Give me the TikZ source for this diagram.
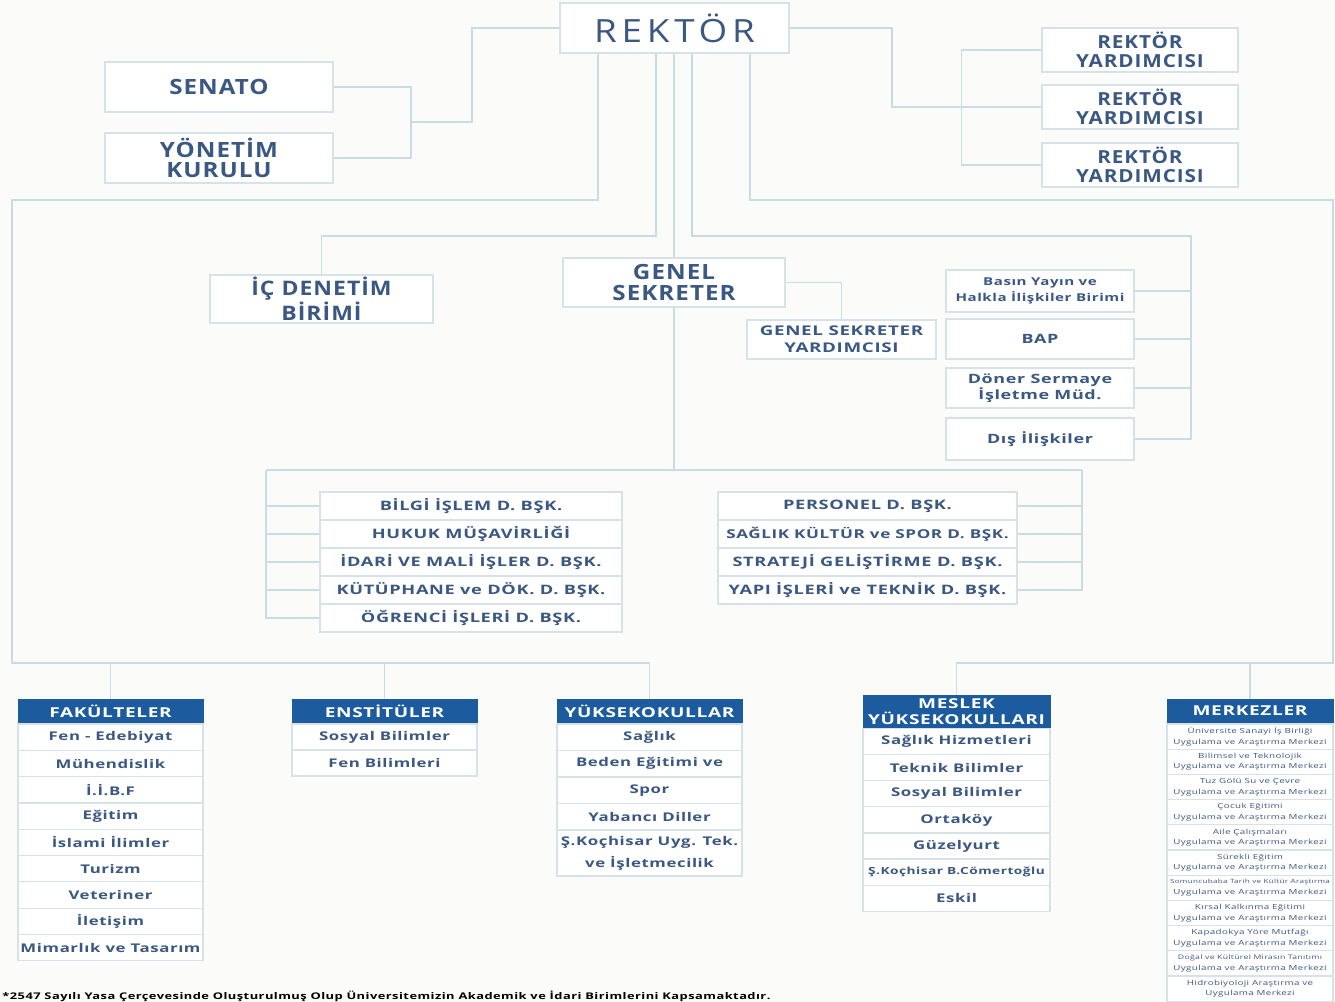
\documentclass[tikz,border=0pt]{standalone}
\usepackage{fontspec}
\setmainfont{Open Sans}
\newfontfamily\topfont{Open Sans}[FakeStretch=1.15,LetterSpace=5]
\newfontfamily\listfont{Open Sans}[FakeStretch=1.4,LetterSpace=5]
\newfontfamily\rekfont{Open Sans}[FakeStretch=1.15,LetterSpace=15]
\usetikzlibrary{calc,positioning}
\definecolor{txt}{RGB}{58,88,130}
\definecolor{headblue}{RGB}{28,92,158}
\definecolor{linecol}{RGB}{200,220,228}
\definecolor{boxline}{RGB}{214,226,232}
\definecolor{bgcol}{RGB}{251,251,249}
\newcommand{\uam}{Uygulama ve Araştırma Merkezi}

\begin{document}
\begin{tikzpicture}
[x=0.5pt,y=-0.5pt,
 unit/.style={draw=boxline,fill=white,text=txt,align=center,inner sep=0pt,line width=0.6pt},
 head/.style={draw=headblue,fill=headblue,text=white,align=center,inner sep=0pt,font=\listfont\bfseries\fontsize{6.8}{8}\selectfont},
 item/.style={unit,font=\listfont\bfseries\fontsize{6}{7}\selectfont},
 dept/.style={unit,minimum height=14pt,font=\listfont\bfseries\fontsize{6.5}{7}\selectfont},
 link/.style={draw=linecol,line width=0.9pt}]
\useasboundingbox (0,0) rectangle (1335,1002);
\fill[bgcol] (0,0) rectangle (1335,1002);

% rektor and boards
\node[unit,minimum width=114.5pt,minimum height=25pt,font=\rekfont\fontsize{16}{18}\selectfont] (rektor) at (674.5,28) {REKTÖR};
\node[unit,minimum width=114pt,minimum height=25pt,font=\topfont\bfseries\fontsize{10.5}{10}\selectfont] (senato) at (219,87) {SENATO};
\node[unit,minimum width=114pt,minimum height=25pt,font=\topfont\bfseries\fontsize{10.5}{10}\selectfont] (yonetim) at (219,158) {YÖNETİM\\KURULU};
\foreach \y [count=\i] in {50,107,165}
  \node[unit,minimum width=98pt,minimum height=22pt,font=\topfont\bfseries\fontsize{9}{9.5}\selectfont] (ry\i) at (1140,\y) {REKTÖR\\YARDIMCISI};

% middle level
\node[unit,minimum width=111.5pt,minimum height=24pt,font=\topfont\bfseries\fontsize{10}{10}\selectfont] (icdenetim) at (321.5,299) {İÇ DENETİM\\BİRİMİ};
\node[unit,minimum width=111pt,minimum height=24.5pt,font=\topfont\bfseries\fontsize{10.5}{10.5}\selectfont] (gensek) at (674,282.5) {GENEL\\SEKRETER};
\node[unit,minimum width=94.5pt,minimum height=19.5pt,font=\listfont\bfseries\fontsize{6.7}{8.5}\selectfont] (gsy) at (841.5,339.5) {GENEL SEKRETER\\YARDIMCISI};
\node[unit,minimum width=94pt,minimum height=21pt,font=\listfont\bfseries\fontsize{5.4}{8}\selectfont] (basin) at (1040,291) {Basın Yayın ve\\Halkla İlişkiler Birimi};
\node[unit,minimum width=94pt,minimum height=20pt,font=\listfont\bfseries\fontsize{6.4}{8}\selectfont] (bap) at (1040,339) {BAP};
\node[unit,minimum width=94pt,minimum height=20pt,font=\listfont\bfseries\fontsize{6.4}{8}\selectfont] (doner) at (1040,388) {Döner Sermaye\\İşletme Müd.};
\node[unit,minimum width=94pt,minimum height=21pt,font=\listfont\bfseries\fontsize{6.4}{8}\selectfont] (dis) at (1040,439) {Dış İlişkiler};

% daire baskanliklari
\foreach \t [count=\i] in {BİLGİ İŞLEM D. BŞK.,HUKUK MÜŞAVİRLİĞİ,İDARİ VE MALİ İŞLER D. BŞK.,KÜTÜPHANE ve DÖK. D. BŞK.,ÖĞRENCİ İŞLERİ D. BŞK.}
  \node[dept,minimum width=151pt] (dl\i) at (471,{506+28*(\i-1)}) {\t};
\foreach \t [count=\i] in {PERSONEL D. BŞK.,{\fontsize{6.1}{7}\selectfont SAĞLIK KÜLTÜR ve SPOR D. BŞK.},STRATEJİ GELİŞTİRME D. BŞK.,YAPI İŞLERİ ve TEKNİK D. BŞK.}
  \node[dept,minimum width=149.5pt] (dr\i) at (867.5,{506+28*(\i-1)}) {\t};

% akademik birimler
\node[head,minimum width=92.5pt,minimum height=12pt] (fak) at (110.5,711) {FAKÜLTELER};
\foreach \t [count=\i] in {Fen - Edebiyat,Mühendislik,İ.İ.B.F,Eğitim,İslami İlimler,Turizm,Veteriner,İletişim,Mimarlık ve Tasarım}
  \node[item,minimum width=92.5pt,minimum height=13.15pt] (fak\i) at (110.5,{737.2+26.3*(\i-1)}) {\t};

\node[head,minimum width=92.5pt,minimum height=12pt] (ens) at (384.5,711) {ENSTİTÜLER};
\foreach \t [count=\i] in {Sosyal Bilimler,Fen Bilimleri}
  \node[item,minimum width=92.5pt,minimum height=13pt] (ens\i) at (384.5,{737+26*(\i-1)}) {\t};

\node[head,minimum width=92.5pt,minimum height=12pt] (yuk) at (649.5,711) {YÜKSEKOKULLAR};
\foreach \t [count=\i] in {Sağlık,Beden Eğitimi ve,Spor,Yabancı Diller}
  \node[item,minimum width=92.5pt,minimum height=13.25pt] (yuk\i) at (649.5,{737.25+26.5*(\i-1)}) {\t};
\node[item,minimum width=92.5pt,minimum height=23pt,font=\listfont\bfseries\fontsize{6}{11}\selectfont] (yuk5) at (649.5,853) {Ş.Koçhisar Uyg. Tek.\\ve İşletmecilik};

\node[head,minimum width=93.5pt,minimum height=16.5pt,font=\listfont\bfseries\fontsize{6.8}{8}\selectfont] (meslek) at (956.5,711.5) {MESLEK\\YÜKSEKOKULLARI};
\foreach \t [count=\i] in {Sağlık Hizmetleri,Teknik Bilimler,Sosyal Bilimler,Ortaköy,Güzelyurt,{\fontsize{4.9}{6}\selectfont Ş.Koçhisar B.Cömertoğlu},Eskil}
  \node[item,minimum width=93.5pt,minimum height=13.05pt] (meslek\i) at (956.5,{741.6+26.1*(\i-1)}) {\t};

\node[head,minimum width=83pt,minimum height=12pt] (merk) at (1250,711) {MERKEZLER};
\foreach \t [count=\i] in {{Üniversite Sanayi İş Birliği\\\uam},{Bilimsel ve Teknolojik\\\uam},{Tuz Gölü Su ve Çevre\\\uam},{Çocuk Eğitimi\\\uam},{Aile Çalışmaları\\\uam},{Sürekli Eğitim\\\uam},{\fontsize{2.9}{4.8}\selectfont Somuncubaba Tarih ve Kültür Araştırma\\\uam},{Kırsal Kalkınma Eğitimi\\\uam},{Kapadokya Yöre Mutfağı\\\uam},{\fontsize{3.1}{5.2}\selectfont Doğal ve Kültürel Mirasın Tanıtımı\\\uam},{Hidrobiyoloji Araştırma ve\\Uygulama Merkezi}}
  \node[unit,minimum width=83pt,minimum height=12.6pt,font=\listfont\fontsize{3.5}{5.2}\selectfont] (merk\i) at (1250,{736.6+25.2*(\i-1)}) {\t};

\node[anchor=west,inner sep=0pt,text=black,font=\listfont\bfseries\fontsize{4.6}{5}\selectfont] (dipnot) at (2,996) {*2547 Sayılı Yasa Çerçevesinde Oluşturulmuş Olup Üniversitemizin Akademik ve İdari Birimlerini Kapsamaktadır.};

% connectors
\coordinate (kurulj) at (411,122);
\coordinate (ryj) at (892,28);
\coordinate (icj) at (321.5,236);
\coordinate (rbus) at (1191,236);
\coordinate (topL) at (12,200);
\coordinate (busL) at (12,663);
\coordinate (topR) at (1333,200);
\coordinate (busR) at (1333,663);
\coordinate (mbl) at (266,470);
\coordinate (mbr) at (1082,470);

\draw[link] (senato.east) -| (kurulj) |- (yonetim.east);
\draw[link] (kurulj) -- ++(61,0) |- (rektor.west);
\draw[link] (rektor.east) -- (ryj) |- (ry2.west);
\draw[link] (ry1.west) -- ++(-80,0) |- (ry3.west);

\draw[link] ($(rektor.south)+(-76.5,0)$) |- (topL) -- (busL) -| (yuk.north);
\draw[link] ($(rektor.south)+(-18.5,0)$) |- (icj) -- (icdenetim.north);
\draw[link] (rektor.south -| gensek.north) -- (gensek.north);
\draw[link] ($(rektor.south)+(17.5,0)$) |- (rbus) |- (dis.east);
\draw[link] ($(rektor.south)+(75.5,0)$) |- (topR) -- (busR) -| (meslek.north);
\foreach \n in {basin,bap,doner}
  \draw[link] (\n.east) -- (\n.east -| rbus);
\draw[link] (gensek.east) -| (gsy.north);

\draw[link] (gensek.south) -- (gensek.south |- mbl);
\draw[link] (mbl) -- (mbr);
\draw[link] (mbl) |- (dl5.west);
\foreach \i in {1,...,4}
  \draw[link] (dl\i.west) -- (dl\i.west -| mbl);
\draw[link] (mbr) |- (dr4.east);
\foreach \i in {1,2,3}
  \draw[link] (dr\i.east) -- (dr\i.east -| mbr);

\foreach \n in {fak,ens}
  \draw[link] (\n.north) -- (\n.north |- busL);
\draw[link] (merk.north) -- (merk.north |- busR);
\end{tikzpicture}
\end{document}
